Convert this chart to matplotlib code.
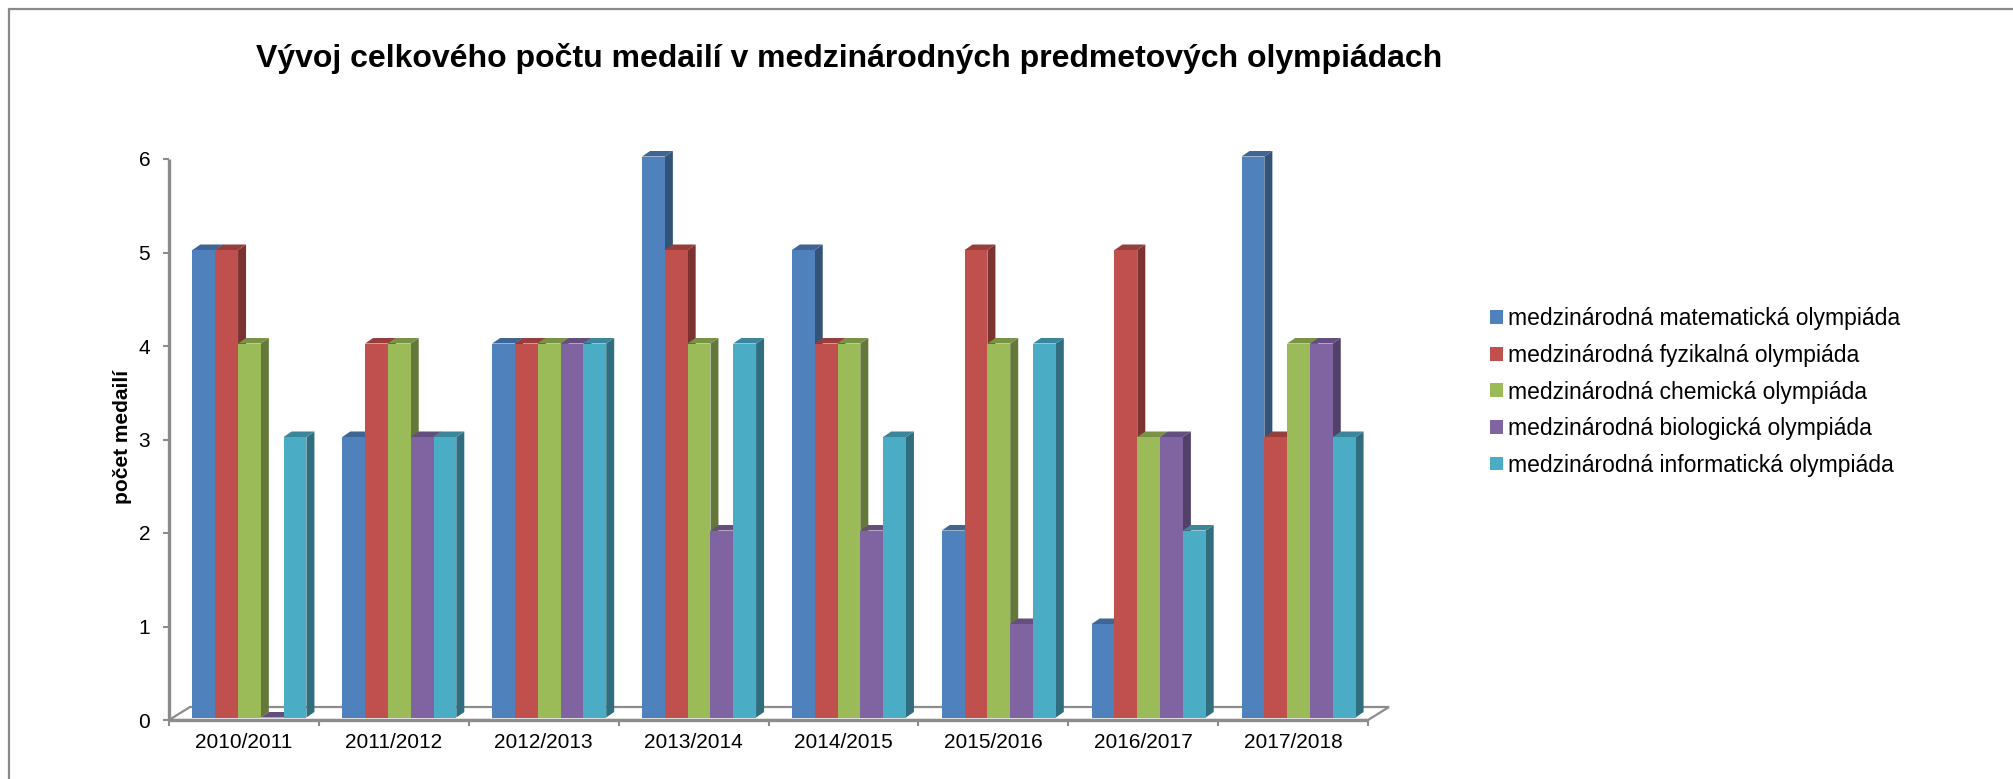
import matplotlib
matplotlib.use("Agg")
import matplotlib.pyplot as plt
import numpy as np
from matplotlib.patches import Polygon, Patch, Rectangle
from matplotlib.colors import to_rgb

plt.rcParams['font.family'] = ['Liberation Sans', 'DejaVu Sans']

# ---------------- data ----------------
title = "Vývoj celkového počtu medailí v medzinárodných predmetových olympiádach"
y_label = "počet medailí"
seasons = ["2010/2011", "2011/2012", "2012/2013", "2013/2014",
           "2014/2015", "2015/2016", "2016/2017", "2017/2018"]
series_names = ["medzinárodná matematická olympiáda",
                "medzinárodná fyzikalná olympiáda",
                "medzinárodná chemická olympiáda",
                "medzinárodná biologická olympiáda",
                "medzinárodná informatická olympiáda"]
matematika = [5, 3, 4, 6, 5, 2, 1, 6]
fyzika = [5, 4, 4, 5, 4, 5, 5, 3]
chemia = [4, 4, 4, 4, 4, 4, 3, 4]
biologia = [0, 3, 4, 2, 2, 1, 3, 4]
informatika = [3, 3, 4, 4, 3, 4, 2, 3]
y_ticks = [0, 1, 2, 3, 4, 5, 6]
colors = ['#4F81BD', '#C0504D', '#9BBB59', '#8064A2', '#4BACC6']
series = [matematika, fyzika, chemia, biologia, informatika]

# ---------------- layout ----------------
W, H = 2013, 779
fig = plt.figure(figsize=(W / 100, H / 100), dpi=100)
ax_l, ax_r, ax_t, ax_b = 169, 1368, 159, 720
ax = fig.add_axes([ax_l / W, 1 - ax_b / H, (ax_r - ax_l) / W, (ax_b - ax_t) / H])
n = len(seasons)
ax.set_xlim(-0.5, n - 0.5)
ax.set_ylim(0, 6)
ax.set_facecolor('none')
for s in ax.spines.values():
    s.set_visible(False)

ux = (ax_r - ax_l) / n          # px per x unit
uy = (ax_b - ax_t) / 6.0        # px per y unit


def px(dxp, dyp):
    return dxp / ux, dyp / uy


grey = '#8C8C8C'
# floor
fdx, fdy = px(21, 13)
floor = Polygon([(-0.5, 0), (n - 0.5, 0), (n - 0.5 + fdx, fdy), (-0.5 + fdx, fdy)],
                closed=True, facecolor='white', edgecolor=grey, lw=1.6,
                clip_on=False, zorder=1)
ax.add_patch(floor)
ax.plot([-0.5, n - 0.5], [0, 0], color=grey, lw=2.4, clip_on=False, zorder=1.5,
        solid_capstyle='butt')
# y axis line
ax.plot([-0.5, -0.5], [0, 6], color=grey, lw=2.4, clip_on=False, zorder=1.5,
        solid_capstyle='butt')

# bars
bw = 150 * 0.152 / ux
shift_x, base = px(5.5, 2.5)
ddx, ddy = px(8, 5.5)
nser = len(series)
for i in range(n):
    for k in range(nser):
        h = series[k][i]
        c = np.array(to_rgb(colors[k]))
        xc = i + (k - (nser - 1) / 2) * bw + shift_x
        l, r = xc - bw / 2, xc + bw / 2
        z = 2 + (i * nser + k) * 0.01
        side = Polygon([(r, base), (r + ddx, base + ddy), (r + ddx, base + h + ddy), (r, base + h)],
                       closed=True, facecolor=c * 0.64, edgecolor='none', zorder=z, clip_on=False)
        top = Polygon([(l, base + h), (l + ddx, base + h + ddy), (r + ddx, base + h + ddy), (r, base + h)],
                      closed=True, facecolor=c * 0.78, edgecolor='none', zorder=z + 0.001, clip_on=False)
        ax.add_patch(side)
        ax.add_patch(top)
        b = ax.bar([xc], [h], width=bw, bottom=base, color=colors[k], edgecolor='none', zorder=z + 0.002)
        for p in b:
            p.set_clip_on(False)

# ticks
ax.set_yticks(y_ticks)
ax.set_yticklabels([str(t) for t in y_ticks])
ax.tick_params(axis='y', direction='out', length=4, width=1.5, color=grey,
               labelsize=15, pad=9.5)
ax.set_xticks(np.arange(-0.5, n, 1.0))
ax.set_xticklabels([])
ax.set_xticks(np.arange(n), minor=True)
ax.set_xticklabels(seasons, minor=True)
ax.tick_params(axis='x', which='major', direction='out', length=4, width=1.5, color=grey)
ax.tick_params(axis='x', which='minor', length=0, labelsize=15, pad=9)

fig.text(122 / W, 1 - 437 / H, y_label, rotation=90, ha='center', va='center',
         fontsize=15, fontweight='bold')
fig.text(849 / W, 1 - 58 / H, title, ha='center', va='center',
         fontsize=23, fontweight='bold')

handles = [Patch(facecolor=c, edgecolor='none') for c in colors]
fig.legend(handles, series_names, loc='center left', bbox_to_anchor=(1490 / W, 1 - 392 / H),
           frameon=False, fontsize=16.5, handlelength=0.55, handleheight=0.55,
           handletextpad=0.25, labelspacing=0.59, borderpad=0, borderaxespad=0)

fig.patches.append(Rectangle((9 / W, -0.1), 1.2, 1 - 9 / H + 0.1, transform=fig.transFigure,
                             fill=False, edgecolor='#8A8A8A', lw=1.6))

fig.savefig('out.png', dpi=100, facecolor='white')
